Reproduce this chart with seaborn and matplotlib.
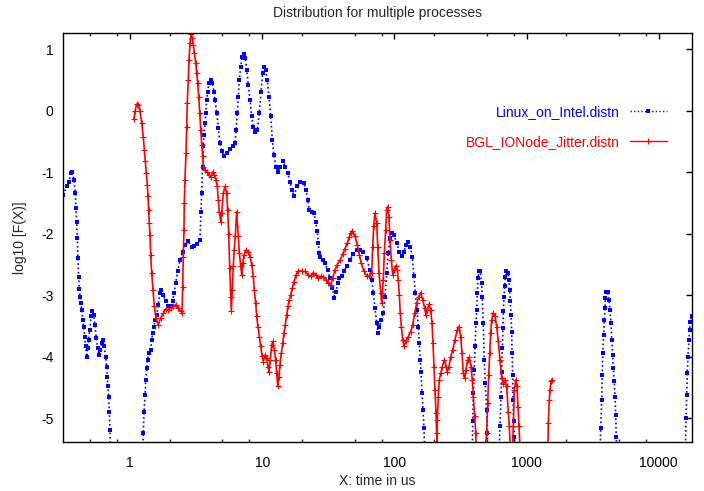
import numpy as np
import pandas as pd
import matplotlib
matplotlib.use("Agg")
import matplotlib.pyplot as plt
import seaborn as sns
from matplotlib.ticker import FixedLocator, FixedFormatter, LogLocator, NullFormatter
from matplotlib.lines import Line2D

# ---------------- data ----------------
title = "Distribution for multiple processes"
x_label = "X: time in us"
y_label = "log10 [F(X)]"
series_names = ["Linux_on_Intel.distn", "BGL_IONode_Jitter.distn"]
x_tick_values = [1, 10, 100, 1000, 10000]
x_tick_labels = ["1", "10", "100", "1000", "10000"]
y_tick_values = [1, 0, -1, -2, -3, -4, -5]
y_tick_labels = ["1", "0", "-1", "-2", "-3", "-4", "-5"]
x_range = [0.313, 17740]
y_range = [-5.38, 1.26]

nan = np.nan
# Linux_on_Intel.distn  (time in us, log10 F(X)); NaN separates segments below the plotted range
linux_time = [
    0.313, 0.332, 0.346, 0.358, 0.364, 0.377, 0.386, 0.390, 0.395, 0.399, 0.404, 0.409, 0.414,
    0.419, 0.426, 0.431, 0.439, 0.447, 0.454, 0.462, 0.470, 0.479, 0.487, 0.496, 0.507, 0.519,
    0.531, 0.543, 0.556, 0.570, 0.583, 0.596, 0.611, 0.625, 0.639, 0.655, 0.667, 0.674, 0.682,
    0.690, 0.697, 0.706, 0.712, nan,
    1.25, 1.26, 1.276, 1.30, 1.315, 1.34, 1.36, 1.39, 1.434, 1.459, 1.485, 1.518, 1.554, 1.592,
    1.637, 1.686, 1.716, 1.786, 1.862, 1.949, 2.032, 2.104, 2.152, 2.217, 2.296, 2.389, 2.504,
    2.620, 2.761, 2.930, 3.064, 3.228, 3.384, 3.444, 3.486, 3.548, 3.585, 3.63, 3.693, 3.738,
    3.804, 3.87, 3.96, 4.08, 4.195, 4.32, 4.40, 4.53, 4.655, 4.795, 4.94, 5.14, 5.39, 5.71,
    6.04, 6.23, 6.34, 6.48, 6.60, 6.71, 6.88, 7.07, 7.25, 7.45, 7.64, 7.85, 8.09, 8.33, 8.56,
    8.87, 9.18, 9.51, 9.79, 10.09, 10.32, 10.63, 10.93, 11.26, 11.60, 11.93, 12.28, 12.72,
    13.17, 13.63, 14.29, 14.95, 15.59, 16.23, 16.81, 17.40, 18.24, 19.32, 20.72, 21.45, 22.10,
    22.72, 23.68, 24.65, 25.39, 26.11, 26.57, 27.0, 27.36, 28.68, 29.85, 31.29, 32.57, 33.91,
    35.11, 36.15, 37.25, 38.3, 39.94, 41.57, 43.57, 46.14, 48.87, 51.86, 54.94, 58.2, 61.7,
    65.4, 67.3, 69.3, 71.3, 73.5, 75.2, 76.9, 79.6, 82.4, 84.9, 87.4, 89.9, 92.6, 95.4, 99.3,
    104.1, 108.9, 113.6, 118.2, 122.4, 127.4, 131.9, 136.6, 140.7, 143.9, 148.3, 151.7, 154.3,
    157.0, 158.9, 161.8, 164.6, 167.5, 169.0, nan,
    389, 391, 396, 402, 408, 414, 419, 424, 429, 436, 447, 456, 462, 470, 479, 487, 499, 504,
    508, nan,
    620, 629, 640, 648, 655, 663, 667, 675, 683, 690, 702, 723, 736, 745, 753, 762, 772, 776,
    785, 789, 799, 807, 815, nan,
    3600, 3636, 3700, 3738, 3764, 3831, 3871, 3918, 3939, 4008, 4107, 4201, 4275, 4349, 4403,
    4480, 4527, 4607, 4663, 4721, 4770, 4800, nan,
    15900, 16060, 16255, 16430, 16630, 16920, 17130, 17310, 17740,
]
linux_logf = [
    -1.37, -1.23, -1.15, -1.01, -0.99, -1.12, -1.34, -1.58, -1.80, -2.07, -2.40, -2.70, -2.90,
    -3.02, -3.13, -3.24, -3.40, -3.52, -3.67, -3.83, -4.00, -3.86, -3.72, -3.56, -3.34, -3.25,
    -3.32, -3.48, -3.70, -3.86, -3.97, -3.89, -3.78, -3.72, -3.83, -4.00, -4.16, -4.32, -4.48,
    -4.65, -4.89, -5.19, -5.50, nan,
    -5.50, -5.24, -4.90, -4.62, -4.37, -4.18, -4.05, -3.94, -3.89, -3.72, -3.61, -3.51, -3.40, -3.32,
    -3.15, -2.96, -2.91, -2.99, -3.10, -3.18, -3.18, -3.10, -2.96, -2.80, -2.61, -2.42, -2.29,
    -2.18, -2.12, -2.22, -2.20, -2.16, -2.10, -1.64, -1.34, -0.91, -0.58, -0.39, -0.20, -0.04,
    0.18, 0.31, 0.45, 0.50, 0.45, 0.31, 0.18, -0.04, -0.28, -0.53, -0.66, -0.73, -0.69, -0.62,
    -0.58, -0.53, -0.31, -0.04, 0.23, 0.50, 0.72, 0.88, 0.93, 0.86, 0.67, 0.42, 0.18, -0.09, -0.26,
    -0.35, -0.31, -0.04, 0.31, 0.61, 0.71, 0.67, 0.50, 0.23, -0.09, -0.47, -0.72, -0.91,
    -0.99, -0.91, -0.82, -0.91, -1.01, -1.15, -1.28, -1.39, -1.23, -1.15, -1.18, -1.28, -1.45,
    -1.61, -1.64, -1.66, -1.80, -1.96, -2.15, -2.31, -2.37, -2.42, -2.48, -2.59, -2.72, -2.88,
    -3.05, -2.94, -2.80, -2.72, -2.69, -2.61, -2.53, -2.42, -2.33, -2.26, -2.26, -2.29, -2.40,
    -2.59, -2.75, -2.96, -3.21, -3.45, -3.61, -3.51, -3.40, -3.29, -3.02, -2.64, -2.31, -2.07, -1.98, -2.02,
    -2.15, -2.29, -2.36, -2.29, -2.18, -2.14, -2.21, -2.37, -2.69, -2.96, -3.24, -3.51, -3.78,
    -4.05, -4.24, -4.59, -4.86, -5.16, -5.50, nan,
    -5.50, -5.05, -4.59, -4.21, -3.83, -3.45, -3.24, -2.96, -2.72, -2.60, -2.61, -2.80, -3.02,
    -3.45, -4.05, -4.43, -4.86, -5.24, -5.50, nan,
    -5.50, -5.13, -4.65, -4.24, -3.86, -3.53, -3.26, -3.03, -2.85, -2.70, -2.61, -2.64, -2.75,
    -2.91, -3.10, -3.32, -3.60, -3.93, -4.29, -4.70, -5.05, -5.30, -5.50, nan,
    -5.50, -5.16, -4.70, -4.29, -3.94, -3.64, -3.40, -3.21, -3.05, -2.94, -2.94, -3.07, -3.24,
    -3.45, -3.72, -3.97, -4.18, -4.40, -4.65, -4.94, -5.30, -5.50, nan,
    -5.50, -5.00, -4.62, -4.27, -4.00, -3.72, -3.56, -3.43, -3.34,
]

# BGL_IONode_Jitter.distn
bgl_time = [
    1.072, 1.091, 1.124, 1.155, 1.190, 1.226, 1.26, 1.283, 1.305, 1.328, 1.352, 1.368, 1.385,
    1.40, 1.417, 1.434, 1.459, 1.493, 1.527, 1.573, 1.637, 1.707, 1.786, 1.873, 1.949, 2.032,
    2.126, 2.228, 2.319, 2.418, 2.474, 2.504, 2.530, 2.56, 2.574, 2.606, 2.652, 2.685, 2.713,
    2.761, 2.795, 2.844, 2.894, 2.960, 3.012, 3.064, 3.141, 3.196, 3.252, 3.309, 3.367, 3.426,
    3.486, 3.548, 3.585, 3.693, 3.804, 3.96, 4.08, 4.224, 4.343, 4.473, 4.575, 4.655, 4.737,
    4.858, 4.94, 5.08, 5.23, 5.39, 5.48, 5.58, 5.68, 5.78, 5.84, 5.94, 6.04, 6.15, 6.26, 6.41,
    6.60, 6.71, 6.88, 7.00, 7.12, 7.29, 7.50, 7.77, 8.09, 8.33, 8.56, 8.71, 8.93, 9.09, 9.29,
    9.51, 9.74, 9.97, 10.19, 10.55, 10.81, 11.06, 11.26, 11.51, 11.80, 12.07, 12.35, 12.65,
    12.88, 13.10, 13.40, 13.63, 13.95, 14.29, 14.62, 14.95, 15.32, 15.67, 16.03, 16.43, 16.90,
    17.40, 18.02, 18.76, 19.9, 21.08, 22.33, 23.39, 24.35, 25.39, 26.57, 27.70, 28.99, 30.39,
    31.62, 32.97, 34.14, 35.53, 37.0, 38.77, 40.64, 42.30, 44.03, 45.6, 46.97, 48.0, 50.35,
    52.4, 54.3, 56.2, 58.9, 61.7, 64.6, 67.3, 68.5, 69.7, 71.3, 73.5, 74.8, 76.5, 78.8, 80.2,
    82.4, 83.9, 86.0, 87.4, 89.0, 91.0, 92.6, 94.8, 97.1, 99.3, 102.3, 105.2, 107.0, 108.9,
    110.8, 112.8, 115.6, 118.2, 122.4, 127.4, 132.8, 137.5, 142.4, 147.5, 152.7, 158.1, 163.7,
    169.5, 173.4, 177.4, 182.7, 188.2, 192.5, 195.9, 199.4, 202.8, 206.4, 208.9, 210.0, 211.1,
    214.8, 218.6, 224.0, 230.4, 238.5, 245.7, 251.2, 258.8, 266.6, 276.1, 287.3, 299.1, 308.1,
    317.3, 324.6, 332.0, 340.2, 348.0, 358.5, 368.7, 379.7, 388.4, 395.2, 405.0, 412.1, 416.0, nan,
    485, 499, 508, 517, 526, 535, 545, 557, 577, 594, 611, 629, 648, 667, 687, 707, 727, 740,
    753, nan,
    785, 793, 807, 827, 846, 861, 876, 891, nan,
    1452, 1459, 1485, 1503, 1530, 1549,
]
bgl_logf = [
    -0.14, -0.01, 0.11, 0.10, -0.01, -0.20, -0.42, -0.63, -0.82, -1.01, -1.20, -1.39, -1.61,
    -1.83, -2.02, -2.34, -2.64, -2.91, -3.18, -3.37, -3.48, -3.37, -3.29, -3.22, -3.24, -3.21,
    -3.18, -3.15, -3.21, -3.26, -3.28, -2.86, -2.37, -1.94, -1.50, -1.12, -0.69, -0.26, 0.13,
    0.50, 0.83, 1.10, 1.25, 1.18, 1.07, 0.94, 0.78, 0.61, 0.45, 0.23, -0.04, -0.31,
    -0.55, -0.74, -0.91, -0.96, -0.99, -1.04, -1.07, -1.00, -1.04, -1.12, -1.23, -1.45, -1.64,
    -1.80, -1.66, -1.34, -1.23, -1.34, -1.61, -2.00, -2.55, -3.02, -3.26, -2.91, -2.53, -2.26, -2.04, -1.64,
    -2.04, -2.31, -2.53, -2.67, -2.48, -2.34, -2.27, -2.29, -2.37, -2.50, -2.69, -2.91, -3.13, -3.34, -3.51,
    -3.67, -3.83, -3.98, -4.08, -3.97, -4.02, -4.16, -4.24, -4.05, -3.80, -3.75, -3.89, -4.05,
    -4.27, -4.48, -4.32, -4.13, -3.94, -3.78, -3.61, -3.48, -3.32, -3.18, -3.07, -2.99, -2.88,
    -2.78, -2.67, -2.60, -2.61, -2.61, -2.67, -2.69, -2.63, -2.67, -2.72, -2.69, -2.70, -2.75,
    -2.80, -2.83, -2.72, -2.59, -2.50, -2.43, -2.33, -2.24, -2.15, -2.05, -1.98, -1.95, -2.04,
    -2.18, -2.34, -2.48, -2.61, -2.68, -2.69, -2.64, -2.21, -1.88, -1.66, -1.83, -2.21, -2.64, -2.96,
    -3.13, -2.75, -2.31, -1.93, -1.61, -1.56, -1.72, -2.10, -2.42, -2.67, -2.59, -2.52, -2.59, -2.75,
    -2.99, -3.29, -3.51, -3.72, -3.83, -3.75, -3.67, -3.59, -3.48, -3.29, -3.13, -3.02, -2.96,
    -3.07, -3.21, -3.32, -3.24, -3.14, -3.24, -3.45, -3.78, -4.16, -4.54, -4.92, -5.24, -5.45, -5.02,
    -4.65, -4.37, -4.27, -4.16, -4.05, -4.16, -4.24, -4.16, -4.00, -3.89, -3.72, -3.56, -3.51,
    -3.67, -3.94, -4.27, -4.35, -4.21, -4.05, -4.01, -4.16, -4.37, -4.65, -4.97, -5.24, -5.50, nan,
    -5.50, -5.24, -4.75, -4.30, -3.94, -3.61, -3.40, -3.29, -3.34, -3.51, -3.75, -4.05, -4.34,
    -4.45, -4.38, -4.48, -4.90, -5.13, -5.50, nan,
    -5.45, -5.13, -4.54, -4.37, -4.48, -4.81, -5.13, -5.45, nan,
    -5.45, -5.08, -4.70, -4.54, -4.40, -4.37,
]


def to_frame(times, values):
    t = np.asarray(times, dtype=float)
    v = np.asarray(values, dtype=float)
    seg = np.cumsum(np.isnan(t))
    df = pd.DataFrame({"time": t, "logf": v, "seg": seg})
    return df.dropna().reset_index(drop=True)


linux_df = to_frame(linux_time, linux_logf)
bgl_df = to_frame(bgl_time, bgl_logf)

# ---------------- style ----------------
sns.set_theme(style="white")
plt.rcParams["font.family"] = ["Liberation Sans", "DejaVu Sans"]
plt.rcParams["axes.unicode_minus"] = False

fig = plt.figure(figsize=(7.04, 4.91), dpi=100)
ax = fig.add_axes([63.3 / 704, (491 - 441.7) / 491, (691.7 - 63.3) / 704, (441.7 - 33.3) / 491])

blue = (0.0, 0.0, 1.0)
red = (1.0, 0.0, 0.0)

sns.lineplot(data=linux_df, x="time", y="logf", units="seg", estimator=None, sort=False,
             ax=ax, color=blue, linestyle=(0, (1, 1.6)), linewidth=1.2,
             marker="s", markersize=3.4, markeredgewidth=0, markerfacecolor=blue,
             legend=False)
sns.lineplot(data=bgl_df, x="time", y="logf", units="seg", estimator=None, sort=False,
             ax=ax, color=red, linestyle="-", linewidth=1.2,
             marker="+", markersize=4.2, markeredgewidth=0.8, markeredgecolor=red,
             legend=False)

ax.set_xscale("log")
ax.set_xlim(x_range)
ax.set_ylim(y_range)

ax.xaxis.set_major_locator(FixedLocator(x_tick_values))
ax.xaxis.set_major_formatter(FixedFormatter(x_tick_labels))
ax.xaxis.set_minor_locator(LogLocator(base=10, subs=[2, 5, 8], numticks=20))
ax.xaxis.set_minor_formatter(NullFormatter())
ax.yaxis.set_major_locator(FixedLocator(y_tick_values))
ax.yaxis.set_major_formatter(FixedFormatter(y_tick_labels))

ax.tick_params(axis="both", which="major", direction="in", length=4.5, width=1.0,
               top=True, right=True, labelsize=10, colors="black")
ax.tick_params(axis="x", which="major", pad=10)
ax.tick_params(axis="y", which="major", pad=7)
ax.tick_params(axis="x", which="minor", direction="in", length=2.5, width=1.0,
               top=True, bottom=True)
for sp in ax.spines.values():
    sp.set_color("black")
    sp.set_linewidth(1.0)

ax.set_title(title, fontsize=10, pad=12)
ax.set_xlabel(x_label, fontsize=10, labelpad=3)
ax.set_ylabel(y_label, fontsize=10, labelpad=10)

handles = [
    Line2D([], [], color=blue, linestyle=(0, (1, 1.6)), linewidth=1.0, marker="s",
           markersize=2.8, markeredgewidth=0),
    Line2D([], [], color=red, linestyle="-", linewidth=1.0, marker="+",
           markersize=4.0, markeredgewidth=0.8),
]
leg = ax.legend(handles, series_names, loc="upper right",
                bbox_to_anchor=((667 - 63.3) / 628.4, (441.7 - 105) / 408.4),
                frameon=False, markerfirst=False, labelcolor="linecolor", fontsize=10,
                handlelength=2.7, handletextpad=0.7, labelspacing=1.15, borderpad=0,
                borderaxespad=0, numpoints=1)

fig.savefig("out.png", dpi=100)
